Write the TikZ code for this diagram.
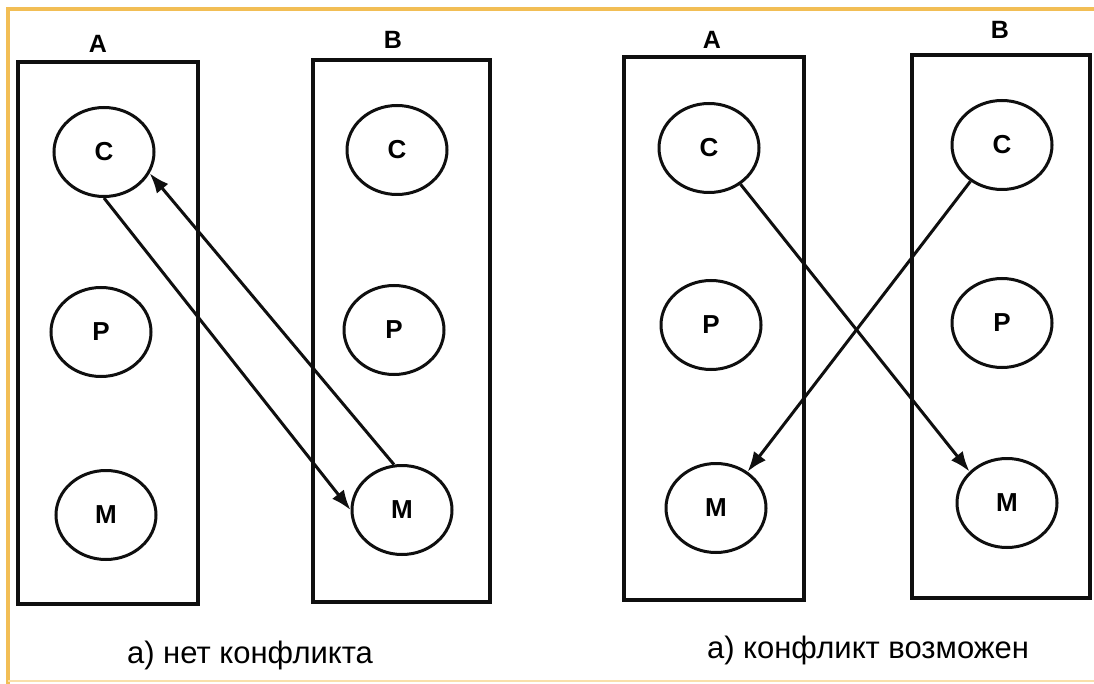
\documentclass[tikz,border=0pt]{standalone}
\usepackage{fontspec}
\setmainfont{Liberation Sans}
\usepackage{tikz}
\usetikzlibrary{shapes.geometric,arrows.meta}
\definecolor{frameColor}{RGB}{242, 190, 85}
\definecolor{inkColor}{RGB}{15, 15, 15}

\begin{document}
\begin{tikzpicture}[x=1pt, y=-1pt,
    agentBox/.style={draw=inkColor, line width=3.6pt},
    roleNode/.style={ellipse, draw=inkColor, line width=3pt, minimum width=100pt,
        minimum height=89pt, inner sep=0pt, font=\fontsize{26}{30}\bfseries},
    boxLabel/.style={font=\fontsize{25}{30}\bfseries},
    caption/.style={font=\fontsize{31}{36}\selectfont},
    link/.style={draw=inkColor, line width=3pt, -{Latex[length=20pt, width=15pt]}}]
    \useasboundingbox (0,0) rectangle (1094,684);
    \fill[white] (0,0) rectangle (1094,684);

    % Orange frame
    \draw[frameColor, line width=4pt] (8,684) -- (8,9) -- (1094,9);
    \draw[frameColor!50, line width=2pt] (8,681) -- (1094,681);

    % Left pair: no conflict
    \draw[agentBox] (18,62) rectangle (198,604);
    \draw[agentBox] (313,60) rectangle (490,602);
    \node[boxLabel] (aLeftLabel) at (98,44) {A};
    \node[boxLabel] (bLeftLabel) at (393,40) {B};

    \node[roleNode] (aLeftC) at (104,152) {C};
    \node[roleNode] (aLeftP) at (101,332) {P};
    \node[roleNode] (aLeftM) at (106,515) {M};
    \node[roleNode] (bLeftC) at (397,150) {C};
    \node[roleNode] (bLeftP) at (394,330) {P};
    \node[roleNode] (bLeftM) at (402,510) {M};

    \draw[link] (aLeftC.south) -- (bLeftM.west);
    \draw[link] (bLeftM.100) -- (aLeftC.-25);

    \node[caption] (leftCaption) at (250,655) {а) нет конфликта};

    % Right pair: conflict possible
    \draw[agentBox] (624,57) rectangle (804,600);
    \draw[agentBox] (912,55) rectangle (1090,598);
    \node[boxLabel] (aRightLabel) at (712,40) {A};
    \node[boxLabel] (bRightLabel) at (1000,30) {B};

    \node[roleNode] (aRightC) at (709,148) {C};
    \node[roleNode] (aRightP) at (711,325) {P};
    \node[roleNode] (aRightM) at (716,508) {M};
    \node[roleNode] (bRightC) at (1002,145) {C};
    \node[roleNode] (bRightP) at (1002,323) {P};
    \node[roleNode] (bRightM) at (1007,503) {M};

    \draw[link] (aRightC.-49) -- (bRightM.140);
    \draw[link] (bRightC.229) -- (aRightM.49);

    \node[caption] (rightCaption) at (868,650) {а) конфликт возможен};
\end{tikzpicture}
\end{document}
